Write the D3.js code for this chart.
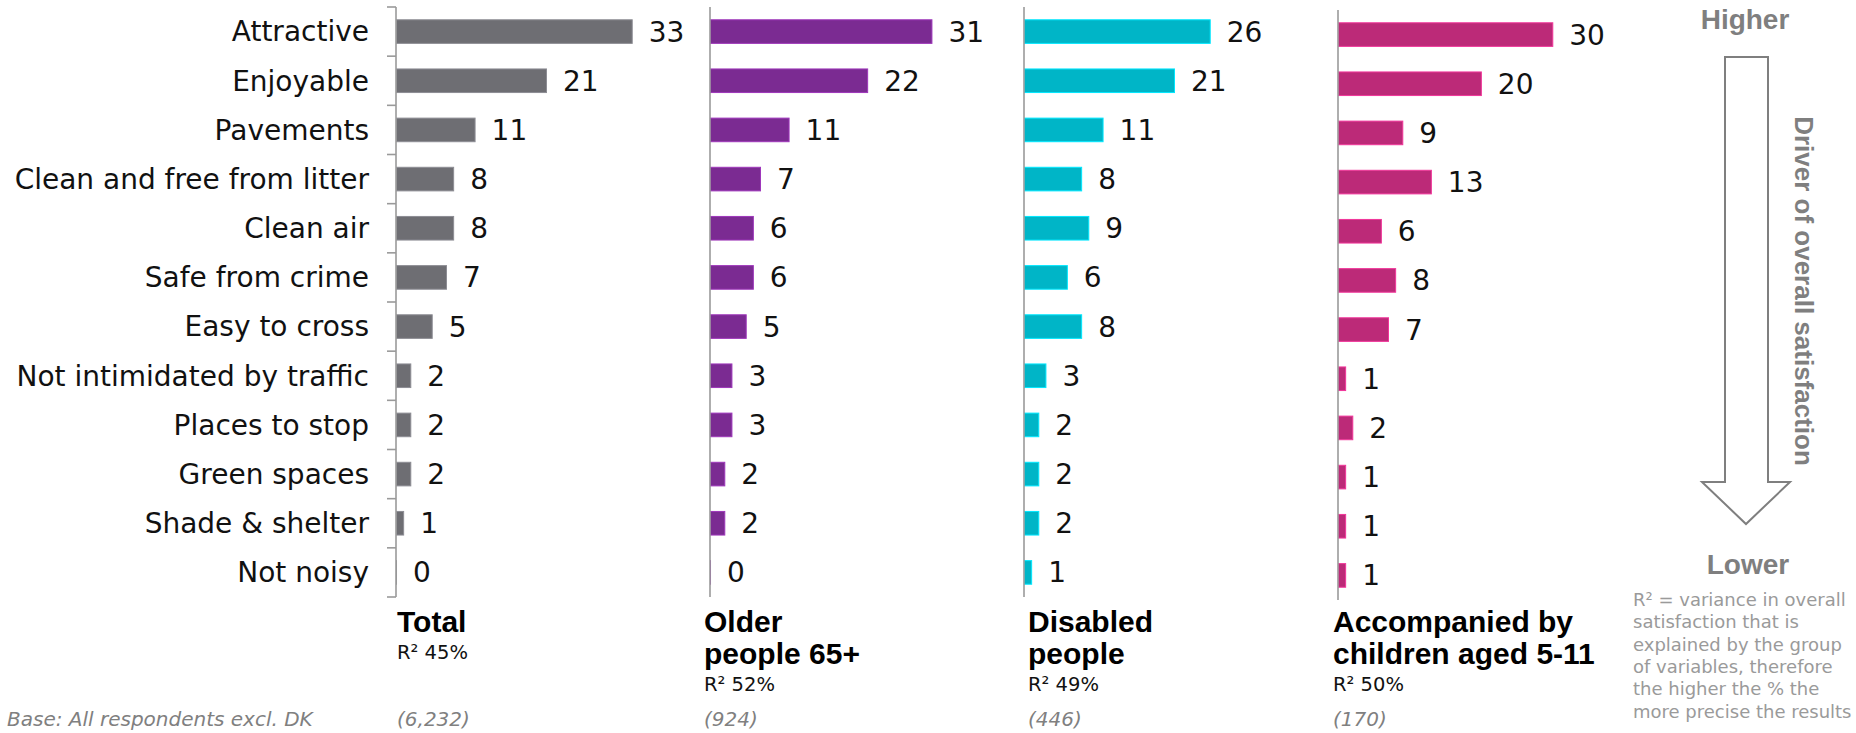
<!DOCTYPE html>
<html>
<head>
<meta charset="utf-8">
<script src="https://cdn.jsdelivr.net/npm/d3@7"></script>
<style>
  html, body { margin: 0; padding: 0; background: #ffffff; }
  svg { display: block; }
</style>
</head>
<body>
<svg id="chart" width="1856" height="733"></svg>
<script>
// Drivers of overall satisfaction, by group
const categories = [
  "Attractive", "Enjoyable", "Pavements", "Clean and free from litter",
  "Clean air", "Safe from crime", "Easy to cross", "Not intimidated by traffic",
  "Places to stop", "Green spaces", "Shade & shelter", "Not noisy"
];
const totalValues     = [33, 21, 11, 8, 8, 7, 5, 2, 2, 2, 1, 0];
const olderValues     = [31, 22, 11, 7, 6, 6, 5, 3, 3, 2, 2, 0];
const disabledValues  = [26, 21, 11, 8, 9, 6, 8, 3, 2, 2, 2, 1];
const childrenValues  = [30, 20, 9, 13, 6, 8, 7, 1, 2, 1, 1, 1];

const groupTitles = [["Total"], ["Older", "people 65+"], ["Disabled", "people"], ["Accompanied by", "children aged 5-11"]];
const rSquared    = [45, 52, 49, 50];
const baseCounts  = ["(6,232)", "(924)", "(446)", "(170)"];
const groupColors = ["#6e6e73", "#7b2b92", "#00b5c7", "#bc2a78"];

const noteLines = [
  "R\u00b2 = variance in overall",
  "satisfaction that is",
  "explained by the group",
  "of variables, therefore",
  "the higher the % the",
  "more precise the results"
];

const seriesList = [totalValues, olderValues, disabledValues, childrenValues];

const REG = "'DejaVu Sans', Verdana, sans-serif";
const BOLD = "'Liberation Sans', Arial, sans-serif";

const svg = d3.select("#chart");

// layout
const panelAxisX  = [396, 710, 1024, 1338];
const titleDx     = [1, -6, 4, -5];
const panelTop    = [7, 7, 7, 10];
const panelBottom = [597, 597, 597, 600];

// shared value scale (px per percentage point)
const x = d3.scaleLinear().domain([0, 35]).range([0, 250]);

seriesList.forEach((values, i) => {
  const ax = panelAxisX[i];
  const y = d3.scaleBand()
    .domain(categories)
    .range([panelTop[i], panelBottom[i]])
    .paddingInner(0.52)
    .paddingOuter(0.26);

  const g = svg.append("g").attr("transform", `translate(${ax},0)`);
  const color = groupColors[i];
  const edge = d3.color(color).brighter(0.7).formatHex();

  // bars
  g.selectAll("rect.bar")
    .data(values)
    .join("rect")
    .attr("class", "bar")
    .attr("x", 0.5)
    .attr("y", (d, k) => y(categories[k]))
    .attr("height", y.bandwidth())
    .attr("width", d => Math.max(x(d), 0.01))
    .attr("fill", color)
    .attr("stroke", edge)
    .attr("stroke-width", 1);

  // value labels
  g.selectAll("text.val")
    .data(values)
    .join("text")
    .attr("class", "val")
    .attr("x", d => x(d) + 17)
    .attr("y", (d, k) => y(categories[k]) + y.bandwidth() / 2)
    .attr("dy", "0.36em")
    .attr("font-family", REG)
    .attr("font-size", 28)
    .attr("fill", "#111")
    .text(d => d);

  // vertical axis line
  g.append("line")
    .attr("x1", 0).attr("x2", 0)
    .attr("y1", panelTop[i]).attr("y2", panelBottom[i])
    .attr("stroke", "#9a9a9a")
    .attr("stroke-width", 1.6);

  if (i === 0) {
    // tick marks at band boundaries and category labels
    const boundaries = categories.map(c => y(c) - y.step() * y.paddingInner() / 2)
      .concat([panelBottom[i]]);
    g.selectAll("line.tick")
      .data(boundaries)
      .join("line")
      .attr("class", "tick")
      .attr("x1", -9).attr("x2", 0)
      .attr("y1", d => d).attr("y2", d => d)
      .attr("stroke", "#9a9a9a")
      .attr("stroke-width", 1.6);

    g.selectAll("text.cat")
      .data(categories)
      .join("text")
      .attr("class", "cat")
      .attr("x", -27)
      .attr("y", d => y(d) + y.bandwidth() / 2)
      .attr("dy", "0.35em")
      .attr("text-anchor", "end")
      .attr("font-family", REG)
      .attr("font-size", 28)
      .attr("fill", "#111")
      .text(d => d);
  }

  // group title, R squared and base
  const tx = ax + titleDx[i];
  const lines = groupTitles[i];
  lines.forEach((ln, k) => {
    svg.append("text")
      .attr("x", tx)
      .attr("y", 632 + k * 32)
      .attr("font-family", BOLD)
      .attr("font-weight", "bold")
      .attr("font-size", 30)
      .attr("fill", "#000")
      .text(ln);
  });
  svg.append("text")
    .attr("x", tx)
    .attr("y", 632 + (lines.length - 1) * 32 + 27)
    .attr("font-family", REG)
    .attr("font-size", 19.5)
    .attr("fill", "#111")
    .text(`R\u00b2 ${rSquared[i]}%`);
  svg.append("text")
    .attr("x", tx)
    .attr("y", 726)
    .attr("font-family", REG)
    .attr("font-style", "italic")
    .attr("font-size", 20)
    .attr("fill", "#808080")
    .text(baseCounts[i]);
});

// base note
svg.append("text")
  .attr("x", 7)
  .attr("y", 726)
  .attr("font-family", REG)
  .attr("font-style", "italic")
  .attr("font-size", 20)
  .attr("fill", "#808080")
  .text("Base: All respondents excl. DK");

// driver arrow
const grey = "#7f7f7f";
const arrow = d3.path();
arrow.moveTo(1725, 57);
arrow.lineTo(1768, 57);
arrow.lineTo(1768, 482);
arrow.lineTo(1790, 482);
arrow.lineTo(1746, 524);
arrow.lineTo(1702, 482);
arrow.lineTo(1725, 482);
arrow.closePath();
svg.append("path")
  .attr("d", arrow.toString())
  .attr("fill", "#fff")
  .attr("stroke", grey)
  .attr("stroke-width", 2);

svg.append("text")
  .attr("x", 1745).attr("y", 29)
  .attr("text-anchor", "middle")
  .attr("font-family", BOLD).attr("font-weight", "bold")
  .attr("font-size", 28).attr("fill", grey)
  .text("Higher");

svg.append("text")
  .attr("x", 1748).attr("y", 574)
  .attr("text-anchor", "middle")
  .attr("font-family", BOLD).attr("font-weight", "bold")
  .attr("font-size", 28).attr("fill", grey)
  .text("Lower");

svg.append("text")
  .attr("transform", "translate(1795,291) rotate(90)")
  .attr("text-anchor", "middle")
  .attr("font-family", BOLD).attr("font-weight", "bold")
  .attr("font-size", 26).attr("fill", grey)
  .text("Driver of overall satisfaction");

svg.selectAll("text.note")
  .data(noteLines)
  .join("text")
  .attr("class", "note")
  .attr("x", 1633)
  .attr("y", (d, k) => 606 + k * 22.3)
  .attr("font-family", REG)
  .attr("font-size", 18)
  .attr("fill", "#9a9a9a")
  .text(d => d);
</script>
</body>
</html>
